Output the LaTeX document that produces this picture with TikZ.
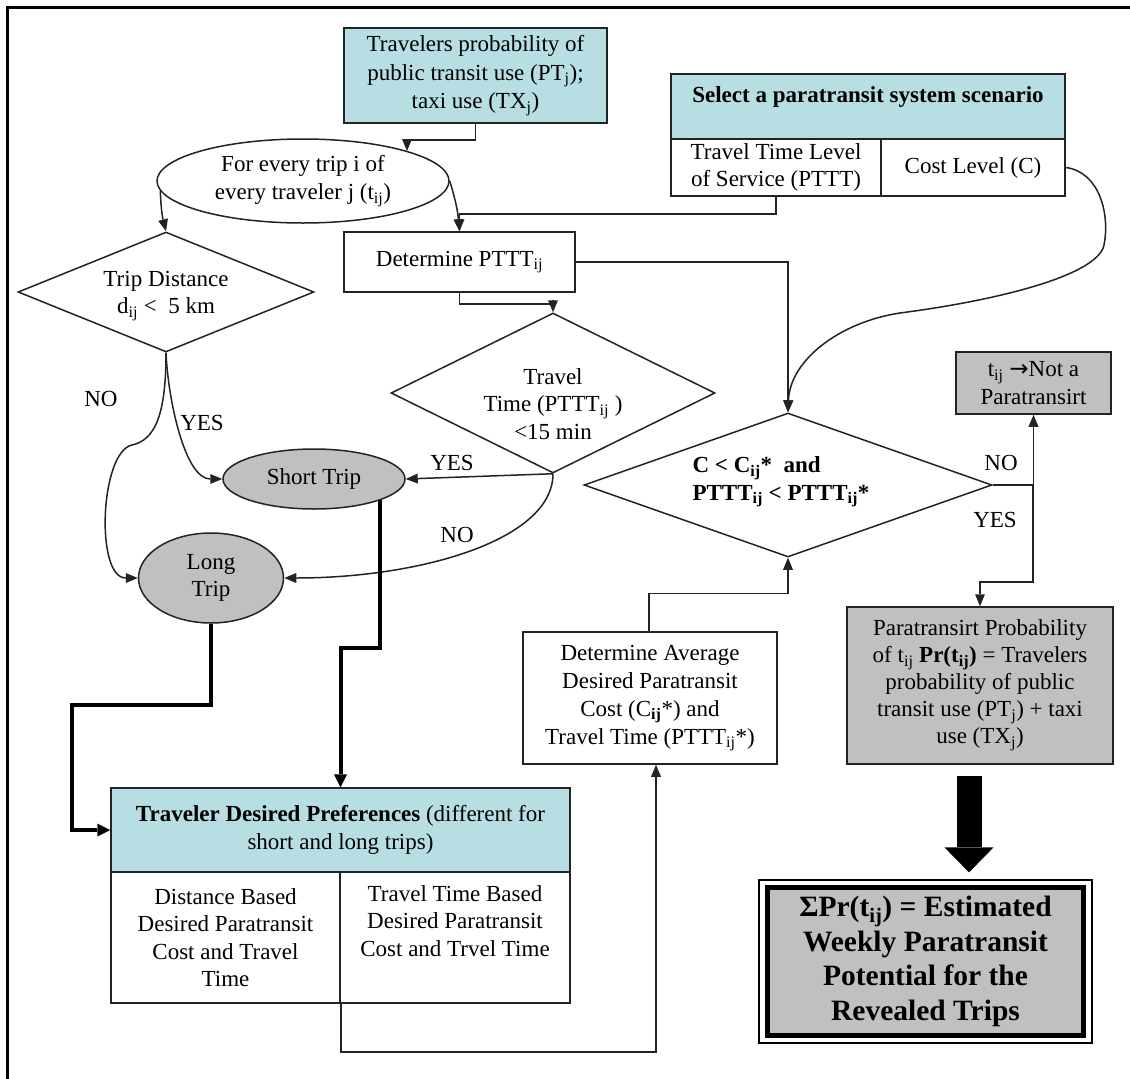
\documentclass[tikz,border=0pt]{standalone}
\usepackage{fontspec}
\setmainfont{Liberation Serif}
\newfontfamily\arrowfont{DejaVu Sans}
\usetikzlibrary{shapes.geometric,arrows.meta}
\definecolor{tealf}{RGB}{183,222,227}
\definecolor{grayf}{RGB}{192,192,192}
\definecolor{ink}{RGB}{35,35,35}
\begin{document}
\begin{tikzpicture}[x=1pt,y=-1pt,
  every node/.style={font=\fontsize{23}{27.5}\selectfont, inner sep=0pt, align=center},
  box/.style={draw=ink, line width=1.5pt, rectangle},
  dia/.style={draw=ink, line width=1.5pt, diamond},
  ell/.style={draw=ink, line width=1.5pt, ellipse},
  conn/.style={draw=ink, line width=1.5pt, -{Triangle[length=12pt,width=10pt,line width=0pt]}},
  plainline/.style={draw=ink, line width=1.5pt},
  thk/.style={draw=black, line width=4pt, -{Triangle[length=13pt,width=13pt,line width=0pt]}},
  bold/.style={font=\bfseries\fontsize{23}{27.5}\selectfont},
]
\useasboundingbox (0,0) rectangle (1130,1079);
\fill[white] (0,0) rectangle (1130,1079);
% frame
\draw[line width=3pt, black] (7,1079) -- (7,7) -- (1130,7);

% top box
\node[box, fill=tealf, minimum width=263, minimum height=95, font=\fontsize{23}{28.5}\selectfont] (pt) at (475.5,75.5)
  {Travelers probability of\\public transit use (PT\textsubscript{j});\\taxi use (TX\textsubscript{j})};

% ellipse
\node[ell, minimum width=292, minimum height=84] (e1) at (303,181)
  {For every trip i of\\every traveler j (t\textsubscript{ij})};

% scenario
\node[box, fill=tealf, minimum width=394, minimum height=65] (sh) at (868,106.5) {};
\node[bold] (sht) at (868,97) {Select a paratransit system scenario};
\node[box, minimum width=210, minimum height=57] (sl) at (776,167.5) {Travel Time Level\\of Service (PTTT)};
\node[box, minimum width=184, minimum height=57] (sr) at (973,167.5) {Cost Level (C)};

% determine PTTT
\node[box, minimum width=231, minimum height=60] (dp) at (459.5,262) {Determine PTTT\textsubscript{ij}};

% trip distance diamond
\node[dia, minimum width=296, minimum height=120] (d1) at (166,292) {};
\node (d1t) at (166,296) {Trip Distance\\d\textsubscript{ij} <\ \ 5 km};

% travel time diamond
\node[dia, minimum width=324, minimum height=160] (d2) at (553,393) {};
\node (d2t) at (553,404) {Travel\\Time (PTTT\textsubscript{ij} )\\<15 min};

% short / long
\node[ell, fill=grayf, minimum width=182, minimum height=60] (st) at (314,479) {Short Trip};
\node[ell, fill=grayf, minimum width=145, minimum height=90] (lt) at (211,578) {Long\\Trip};

% main diamond
\node[dia, minimum width=408, minimum height=144] (d3) at (788,485) {};
\node[bold, align=left] (d3t) at (781,482) {C < C\textsubscript{ij}*\ \ and\\PTTT\textsubscript{ij} < PTTT\textsubscript{ij}*};

% not a paratransit
\node[box, fill=grayf, minimum width=155, minimum height=62] (np) at (1033.5,383) {t\textsubscript{ij} {\arrowfont →}Not a\\Paratransirt};

% paratransit probability
\node[box, fill=grayf, minimum width=266, minimum height=157, font=\fontsize{23}{27}\selectfont] (pp) at (980,685.5)
  {Paratransirt Probability\\of t\textsubscript{ij} \textbf{Pr(t\textsubscript{ij})} = Travelers\\probability of public\\transit use (PT\textsubscript{j}) + taxi\\use (TX\textsubscript{j})};

% determine average
\node[box, minimum width=254, minimum height=132, font=\fontsize{23}{28}\selectfont] (da) at (650,698)
  {Determine Average\\Desired Paratransit\\Cost (C\textsubscript{\textbf{ij}}*) and\\Travel Time (PTTT\textsubscript{ij}*)};

% traveler desired preferences
\node[box, fill=tealf, minimum width=459, minimum height=84] (th) at (340.5,830)
  {\textbf{Traveler Desired Preferences} (different for\\short and long trips)};
\node[box, minimum width=229, minimum height=131] (tl) at (225.5,937.5)
  {Distance Based\\Desired Paratransit\\Cost and Travel\\Time};
\node[box, minimum width=230, minimum height=131] (tr) at (455,937.5) {};
\node[anchor=north] (trt) at (455,885) {Travel Time Based\\Desired Paratransit\\Cost and Trvel Time};

% final box
\node[draw=black, line width=1.2pt, minimum width=333, minimum height=163] (fbo) at (925.5,961.5) {};
\node[draw=black, line width=5pt, fill=grayf, minimum width=316, minimum height=148,
      font=\bfseries\fontsize{29.5}{34.5}\selectfont] (fb) at (925.5,961.5)
  {ΣPr(t\textsubscript{ij}) = Estimated\\Weekly Paratransit\\Potential for the\\Revealed Trips};

% ---------------- connectors
\coordinate (c1) at (407,140);
\draw[conn] (pt.south) |- (c1) -- (c1 |- e1.16);
\draw[conn] (e1.184) to[bend right=6] (d1.north);
\draw[conn] (e1.east) to[bend left=6] (dp.north);
\draw[conn] (sl.south) -- ++(0,17) -| (dp.north);
\draw[conn] (sr.east) .. controls (1100,172) and (1110,215) .. (1104,245)
  .. controls (1098,275) and (1000,300) .. (900,313)
  .. controls (840,322) and (790,360) .. (d3.north);
\draw[conn] (dp.east) -| (d3.north);
\draw[conn] (dp.south) -- ++(0,11) -| (d2.north);

% trip distance outcomes
\draw[conn] (d1.south) .. controls (168,400) and (185,479) .. (st.west);
\draw[conn] (d1.south) .. controls (166,415) and (155,440) .. (132,445)
  .. controls (100,452) and (95,578) .. (lt.west);
\node (no1) at (101,399) {NO};
\node (yes1) at (202,423) {YES};

% travel time outcomes
\draw[conn] (d2.south) -- (st.east);
\draw[conn] (d2.south) .. controls (553,540) and (420,578) .. (lt.east);
\node (yes2) at (452,463) {YES};
\node (no2) at (457,535) {NO};

% thick lines to preferences
\draw[thk] (st.-18) -- ++(0,148) -| (th.north);
\coordinate (c3) at (72,705);
\draw[thk] (lt.south) |- (c3) |- (th.west);

% preferences to determine average
\coordinate (c4) at (656,1052);
\draw[conn] (tl.south east) |- (c4) -- (c4 |- da.south);

% determine average to main diamond
\draw[conn] ([xshift=-1pt]da.north) -- ++(0,-38) -| (d3.south);

% main diamond outcomes
\draw[conn] (d3.east) -| (np.south);
\coordinate (c5) at (1033,582);
\draw[conn] (d3.east) -| (c5) -| (pp.north);
\node (no3) at (1001,463) {NO};
\node (yes3) at (995,520) {YES};

% big arrow
\coordinate (ba) at ([xshift=-11pt,yshift=-11pt]pp.south);
\draw[black, line width=25pt, -{Triangle[length=25pt,width=49pt,line width=0pt]}, shorten >=7pt] (ba) -- (ba |- fbo.north);
\end{tikzpicture}
\end{document}
